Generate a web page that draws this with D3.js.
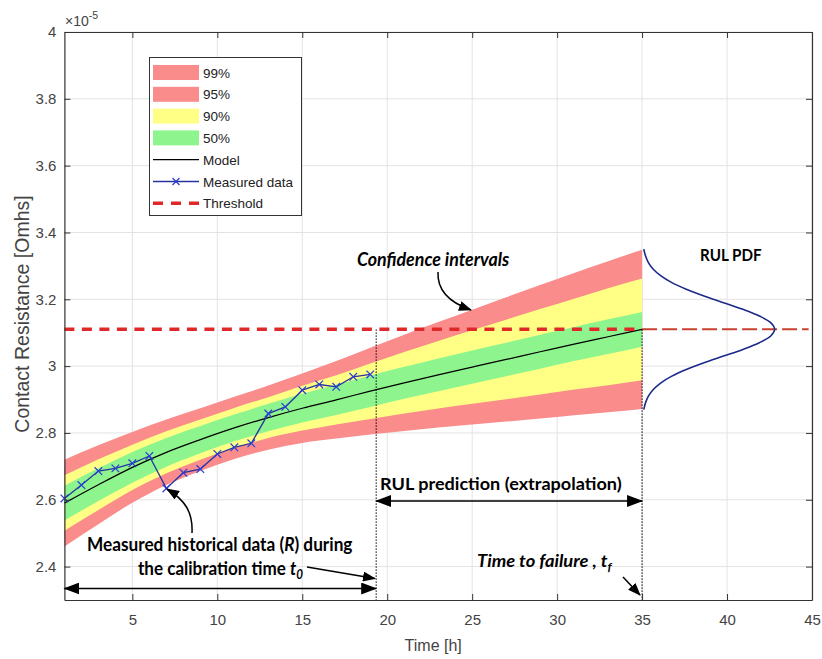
<!DOCTYPE html>
<html><head><meta charset="utf-8">
<script src="https://cdn.jsdelivr.net/npm/d3@7"></script>
<style>body{margin:0;background:#fff;} svg{display:block;}</style>
</head><body>
<svg id="chart" width="822" height="659"></svg>
<script>
// ---------------- data (values in units of 1e-5 Ohm) ----------------
const modelTime  = [1,3,5,7,9,11,13,15,17,19,21,23,25,27,29,31,33,35];
const modelValue = [2.590,2.645,2.697,2.742,2.780,2.815,2.846,2.874,2.899,2.925,2.950,2.974,2.997,3.020,3.043,3.066,3.088,3.110];
// half-widths of the confidence bands around the model
const halfWidth99 = [0.130,0.118,0.106,0.098,0.094,0.093,0.096,0.104,0.116,0.130,0.144,0.158,0.172,0.186,0.200,0.213,0.226,0.238];
const halfWidth95 = [0.106,0.096,0.086,0.080,0.076,0.076,0.078,0.085,0.095,0.106,0.117,0.128,0.140,0.151,0.162,0.173,0.184,0.194];
const halfWidth90 = [0.083,0.076,0.068,0.063,0.060,0.060,0.061,0.067,0.074,0.083,0.092,0.101,0.110,0.119,0.128,0.136,0.145,0.152];
const halfWidth50 = [0.052,0.049,0.046,0.043,0.041,0.040,0.041,0.043,0.045,0.047,0.048,0.049,0.050,0.050,0.051,0.051,0.052,0.052];
const bandLabels = ["99%","95%","90%","50%"];
const bandColors = ["#fa8c8c","#fa8c8c","#ffff86","#8ef58e"];

const measuredTime  = [1,2,3,4,5,6,7,8,9,10,11,12,13,14,15,16,17,18,19];
const measuredValue = [2.604,2.644,2.686,2.694,2.709,2.731,2.634,2.681,2.692,2.737,2.757,2.769,2.858,2.878,2.928,2.945,2.938,2.968,2.975];

const threshold = 3.11;
const calibrationTime = 19.35;   // t0
const failureTime = 35;          // tf
const thresholdEnd = 44.8;

// RUL PDF (drawn sideways, starting at t = failureTime)
const pdfR = [2.870,2.890,2.910,2.930,2.950,2.970,2.990,3.010,3.030,3.050,3.070,3.090,3.110,3.130,3.150,3.170,3.190,3.210,3.230,3.250,3.270,3.290,3.310,3.330,3.350];
const pdfT = [35.10,35.20,35.37,35.66,36.11,36.75,37.60,38.64,39.79,40.93,41.90,42.57,42.80,42.57,41.90,40.93,39.79,38.64,37.60,36.75,36.11,35.66,35.37,35.20,35.10];

const xTicks = [5,10,15,20,25,30,35,40,45];
const yTicks = [2.4,2.6,2.8,3.0,3.2,3.4,3.6,3.8,4.0];
const yTickLabels = ["2.4","2.6","2.8","3","3.2","3.4","3.6","3.8","4"];

// ---------------- layout ----------------
const L = 64.4, R = 812, T = 32, B = 600;
const svg = d3.select("#chart");
const x = d3.scaleLinear().domain([1,45]).range([L,R]);
const y = d3.scaleLinear().domain([2.3,4.0]).range([B,T]);
const axisFont = "'Liberation Sans', Arial, Helvetica, sans-serif";
const annFont = "Lato, 'Open Sans', sans-serif";

// grid
const grid = svg.append("g");
grid.selectAll(".gx").data(xTicks).join("line")
  .attr("x1",d=>x(d)).attr("x2",d=>x(d)).attr("y1",T).attr("y2",B)
  .attr("stroke","#e3e3e3").attr("stroke-width",1);
grid.selectAll(".gy").data(yTicks).join("line")
  .attr("x1",L).attr("x2",R).attr("y1",d=>y(d)).attr("y2",d=>y(d))
  .attr("stroke","#e3e3e3").attr("stroke-width",1);

// bands
const halfWidths = [halfWidth99,halfWidth95,halfWidth90,halfWidth50];
halfWidths.forEach((hw,k)=>{
  const area = d3.area()
    .x((d,i)=>x(modelTime[i]))
    .y0((d,i)=>y(modelValue[i]-hw[i]))
    .y1((d,i)=>y(modelValue[i]+hw[i]))
    .curve(d3.curveMonotoneX);
  svg.append("path").attr("d",area(modelTime)).attr("fill",bandColors[k]);
});

// model
svg.append("path")
  .attr("d", d3.line().x((d,i)=>x(modelTime[i])).y((d,i)=>y(modelValue[i])).curve(d3.curveMonotoneX)(modelTime))
  .attr("fill","none").attr("stroke","#000").attr("stroke-width",1.2);

// measured data
svg.append("path")
  .attr("d", d3.line().x((d,i)=>x(measuredTime[i])).y((d,i)=>y(measuredValue[i]))(measuredTime))
  .attr("fill","none").attr("stroke","#26359c").attr("stroke-width",1.3);
const mk = svg.append("g");
measuredTime.forEach((t,i)=>{
  const cx = x(t), cy = y(measuredValue[i]), s = 3.8;
  mk.append("path").attr("d",`M${cx-s},${cy-s}L${cx+s},${cy+s}M${cx-s},${cy+s}L${cx+s},${cy-s}`)
    .attr("stroke","#2a3cd6").attr("stroke-width",1.2);
});

// threshold
svg.append("line").attr("x1",x(1)).attr("x2",x(failureTime)).attr("y1",y(threshold)).attr("y2",y(threshold))
  .attr("stroke","#e02828").attr("stroke-width",3.5).attr("stroke-dasharray","10,7.5");
svg.append("line").attr("x1",x(failureTime)).attr("x2",x(thresholdEnd)).attr("y1",y(threshold)).attr("y2",y(threshold))
  .attr("stroke","#c8402e").attr("stroke-width",2).attr("stroke-dasharray","15,5");

// dotted verticals
[calibrationTime, failureTime].forEach(t=>{
  svg.append("line").attr("x1",x(t)).attr("x2",x(t)).attr("y1",y(threshold)).attr("y2",B)
    .attr("stroke","#000").attr("stroke-width",1).attr("stroke-dasharray","1.5,1.5");
});

// RUL PDF
svg.append("path")
  .attr("d", d3.line().x((d,i)=>x(pdfT[i])).y((d,i)=>y(pdfR[i])).curve(d3.curveCatmullRom)(pdfR))
  .attr("fill","none").attr("stroke","#1b2a8a").attr("stroke-width",1.6);

// axes (ticks inward, box)
const axB = svg.append("g").attr("transform",`translate(0,${B})`)
  .call(d3.axisBottom(x).tickValues(xTicks).tickSizeInner(-6).tickSizeOuter(0).tickPadding(14.5));
const axL = svg.append("g").attr("transform",`translate(${L},0)`)
  .call(d3.axisLeft(y).tickValues(yTicks).tickFormat((d,i)=>yTickLabels[i]).tickSizeInner(-6).tickSizeOuter(0).tickPadding(8));
const axT = svg.append("g").attr("transform",`translate(0,${T})`)
  .call(d3.axisTop(x).tickValues(xTicks).tickSizeInner(-6).tickSizeOuter(0).tickFormat(""));
const axR = svg.append("g").attr("transform",`translate(${R},0)`)
  .call(d3.axisRight(y).tickValues(yTicks).tickSizeInner(-6).tickSizeOuter(0).tickFormat(""));
[axB,axL,axT,axR].forEach(a=>{
  a.select(".domain").attr("stroke","#333").attr("stroke-width",1.2);
  a.selectAll(".tick line").attr("stroke","#333");
  a.selectAll("text").attr("fill","#444").style("font-family",axisFont).style("font-size","15px");
});

// exponent label
const ex = svg.append("text").attr("x",65).attr("y",26).attr("fill","#444")
  .style("font-family",axisFont).style("font-size","14px");
ex.append("tspan").text("\u00d710");
ex.append("tspan").attr("dy",-7).style("font-size","10.5px").text("-5");

// axis titles
svg.append("text").attr("x",(L+R)/2 - 5).attr("y",651).attr("text-anchor","middle")
  .attr("fill","#444").style("font-family",axisFont).style("font-size","16px").text("Time [h]");
svg.append("text").attr("transform",`translate(29,314) rotate(-90)`).attr("text-anchor","middle")
  .attr("fill","#444").style("font-family",axisFont).style("font-size","19.5px").text("Contact Resistance [Omhs]");

// legend
const lg = svg.append("g");
lg.append("rect").attr("x",149.5).attr("y",57.5).attr("width",152).attr("height",158)
  .attr("fill","#fff").attr("stroke","#333").attr("stroke-width",1);
const rowY = i => 72.5 + i*21.8;
bandLabels.forEach((lab,i)=>{
  lg.append("rect").attr("x",153).attr("y",rowY(i)-7.5).attr("width",46).attr("height",15).attr("fill",bandColors[i]);
});
const legendText = bandLabels.concat(["Model","Measured data","Threshold"]);
legendText.forEach((lab,i)=>{
  lg.append("text").attr("x",203).attr("y",rowY(i)+5).attr("fill","#222")
    .style("font-family",axisFont).style("font-size","13.5px").text(lab);
});
lg.append("line").attr("x1",153).attr("x2",199).attr("y1",rowY(4)).attr("y2",rowY(4)).attr("stroke","#000").attr("stroke-width",1.2);
lg.append("line").attr("x1",153).attr("x2",199).attr("y1",rowY(5)).attr("y2",rowY(5)).attr("stroke","#26359c").attr("stroke-width",1.3);
{ const cx=176, cy=rowY(5), s=3.5;
  lg.append("path").attr("d",`M${cx-s},${cy-s}L${cx+s},${cy+s}M${cx-s},${cy+s}L${cx+s},${cy-s}`).attr("stroke","#2a3cd6").attr("stroke-width",1.2); }
lg.append("line").attr("x1",153).attr("x2",199).attr("y1",rowY(6)).attr("y2",rowY(6))
  .attr("stroke","#e02828").attr("stroke-width",3.5).attr("stroke-dasharray","10,8");

// ---------------- annotations ----------------
const defs = svg.append("defs");
defs.append("marker").attr("id","ah").attr("markerUnits","userSpaceOnUse")
  .attr("viewBox","0 0 16 12").attr("refX",15).attr("refY",6).attr("markerWidth",16).attr("markerHeight",12)
  .attr("orient","auto-start-reverse")
  .append("path").attr("d","M0,0L16,6L0,12Z").attr("fill","#000");
defs.append("marker").attr("id","ahs").attr("markerUnits","userSpaceOnUse")
  .attr("viewBox","0 0 13 10").attr("refX",12).attr("refY",5).attr("markerWidth",13).attr("markerHeight",10)
  .attr("orient","auto")
  .append("path").attr("d","M0,0L13,5L0,10Z").attr("fill","#000");

const ann = svg.append("g").attr("fill","#000").style("font-family",annFont).style("font-weight","bold");
function fitText(sel, x0, x1){
  const bb = sel.node().getBBox();
  const s = (x1-x0)/bb.width;
  sel.attr("transform",`translate(${x0},0) scale(${s},1) translate(${-bb.x},0)`);
}
function addText(parts, x0, x1, baseline, size, italicAll){
  const t = ann.append("text").attr("x",0).attr("y",baseline).style("font-size",size+"px");
  if(italicAll) t.style("font-style","italic");
  parts.forEach(p=>{
    const sp = t.append("tspan").text(p.t);
    if(p.i) sp.style("font-style","italic");
    if(p.sub){ sp.attr("dy",4).style("font-size",(size*0.68)+"px"); }
  });
  fitText(t,x0,x1);
  return t;
}
addText([{t:"Confidence intervals"}], 357, 510, 266.5, 18, true);
addText([{t:"RUL PDF"}], 700, 762, 261, 17, false);
addText([{t:"RUL prediction (extrapolation)"}], 380, 622, 490, 17.5, false);
addText([{t:"Measured historical data ("},{t:"R",i:true},{t:") during"}], 87, 353, 551, 18, false);
addText([{t:"the calibration time "},{t:"t",i:true},{t:"0",i:true,sub:true}], 138, 303, 575.5, 18, false);
addText([{t:"Time to failure , "},{t:"t"},{t:"f",sub:true}], 477, 613, 567.5, 17, true);

const arrowG = svg.append("g").attr("fill","none").attr("stroke","#000").attr("stroke-width",1.5);
arrowG.append("path").attr("d","M438,272 C437,290 448,302 471,310").attr("marker-end","url(#ahs)");
arrowG.append("path").attr("d","M192,533 C193,512 185,500 167,489").attr("marker-end","url(#ahs)");
arrowG.append("path").attr("d","M307,567 L375,578.5").attr("marker-end","url(#ahs)");
arrowG.append("path").attr("d","M623,577 L640,595").attr("marker-end","url(#ahs)");
arrowG.append("line").attr("x1",x(1)).attr("x2",x(calibrationTime)).attr("y1",588.5).attr("y2",588.5)
  .attr("marker-start","url(#ah)").attr("marker-end","url(#ah)");
arrowG.append("line").attr("x1",x(calibrationTime)).attr("x2",x(failureTime)).attr("y1",501).attr("y2",501)
  .attr("marker-start","url(#ah)").attr("marker-end","url(#ah)");
</script>
</body></html>
